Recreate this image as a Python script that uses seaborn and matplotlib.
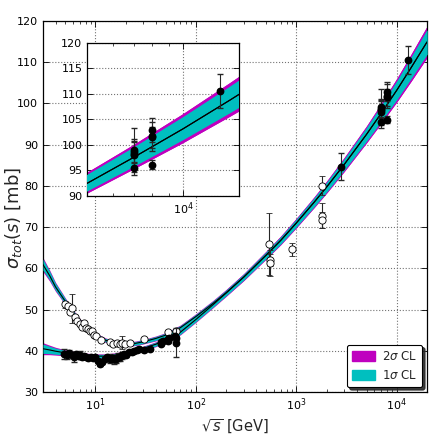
import matplotlib
matplotlib.use('agg')
import matplotlib.pyplot as plt
import matplotlib.ticker as mticker
from matplotlib.patches import Patch
import seaborn as sns
import pandas as pd
import numpy as np

# fitted curves
curve_x = [3, 3.5, 4, 5, 6, 7.5, 10, 12.5, 15, 20, 25, 30, 40, 50, 70, 100, 150, 200,
           300, 500, 700, 1000, 1500, 2000, 3000, 5000, 7000, 10000, 14000, 20000]
pbarp_mid = [60.9, 58.2, 55.5, 52.0, 49.2, 46.3, 43.8, 42.6, 42.0, 41.6, 41.8, 42.2, 43.0, 43.8,
             45.6, 48.3, 51.6, 54.1, 57.9, 63.2, 66.8, 71.0, 76.0, 79.7, 85.2, 92.5, 97.6,
             103.2, 108.8, 114.9]
pp_mid = [40.5, 40.2, 39.9, 39.5, 39.2, 38.9, 38.7, 38.7, 38.9, 39.4, 39.9, 40.6, 41.6, 42.7,
          44.5, 47.6, 51.3, 54.0, 57.9, 63.2, 66.8, 71.0, 76.0, 79.7, 85.2, 92.5, 97.6,
          103.2, 108.8, 114.9]
# 2 sigma half widths
pbarp_w2 = [1.7, 1.35, 1.1, 0.85, 0.7, 0.6, 0.55, 0.55, 0.55, 0.55, 0.55, 0.55, 0.6, 0.6,
            0.65, 0.7, 0.75, 0.8, 0.85, 0.95, 1.05, 1.15, 1.3, 1.45, 1.7, 2.05, 2.4, 2.85, 3.3, 3.8]
pp_w2 = [1.45, 1.15, 0.95, 0.75, 0.65, 0.6, 0.55, 0.55, 0.55, 0.55, 0.55, 0.55, 0.6, 0.6,
         0.65, 0.7, 0.75, 0.8, 0.85, 0.95, 1.05, 1.15, 1.3, 1.45, 1.7, 2.05, 2.4, 2.85, 3.3, 3.8]

# pp data (filled)
pp_x = [4.9, 5.2, 5.5, 5.8, 6.1, 6.4, 6.8, 7.0, 7.3, 7.6, 8.0, 8.5, 9.0, 9.5, 10.0, 10.6,
        11.0, 11.5, 12.3, 13.0, 13.8, 14.5, 15.2, 16.0, 16.8, 17.5, 18.2, 19.4, 20.0, 21.7,
        23.0, 24.4, 26.0, 27.4, 30.6, 35.0, 44.7, 45.0, 46.5, 52.8, 53.0, 54.0, 62.3, 62.7,
        63.0, 2760, 7000, 7000, 7000, 7000, 7000, 8000, 8000, 8000, 8000, 13000]
pp_y = [39.2, 38.9, 39.5, 39.0, 38.6, 39.3, 38.8, 39.0, 38.4, 38.7, 38.5, 38.3, 38.6, 38.2,
        38.5, 37.6, 36.8, 37.2, 38.0, 38.4, 38.1, 38.2, 37.9, 38.0, 38.5, 38.4, 38.9, 39.2,
        39.0, 39.6, 39.8, 40.0, 40.2, 40.5, 40.1, 40.5, 41.7, 42.1, 42.4, 42.4, 42.8, 43.1,
        43.5, 43.2, 42.0, 84.7, 98.3, 98.6, 99.1, 95.4, 98.0, 101.7, 102.9, 101.5, 96.1, 110.6]
pp_err = [1.2, 1.0, 0.8, 0.6, 1.2, 0.5, 0.5, 0.9, 0.4, 0.4, 0.3, 0.3, 0.4, 0.3, 0.3, 0.5,
          0.6, 0.5, 0.5, 0.6, 1.0, 0.8, 1.0, 0.9, 0.9, 0.8, 0.8, 0.4, 0.5, 0.5, 0.3, 0.4,
          0.4, 0.4, 0.4, 0.4, 0.4, 0.4, 0.5, 0.4, 0.5, 0.5, 0.5, 0.5, 3.5, 3.3, 2.8, 2.2,
          4.3, 1.3, 2.5, 2.9, 2.3, 2.1, 0.9, 3.4]

# pbar-p data (open)
pbarp_x = [5.0, 5.3, 5.6, 5.9, 6.2, 6.6, 7.0, 7.3, 7.7, 8.0, 8.4, 8.8, 9.2, 9.7, 10.1, 11.3,
           13.8, 15.0, 16.2, 17.5, 18.3, 19.5, 22.0, 30.4, 52.6, 62.7, 540, 546, 550, 900,
           1800, 1800, 1800]
pbarp_y = [51.3, 50.8, 49.5, 50.3, 48.2, 47.3, 46.5, 45.8, 46.8, 45.5, 45.2, 44.7, 44.9, 43.8,
           43.5, 42.6, 42.2, 41.6, 41.8, 41.6, 42.0, 41.6, 41.8, 42.8, 44.6, 44.9, 66.0, 62.1,
           61.3, 64.6, 80.0, 72.8, 71.7]
pbarp_err = [0.8, 0.6, 0.6, 3.5, 0.5, 0.5, 0.5, 0.4, 0.5, 0.4, 0.4, 0.4, 0.4, 0.4, 0.4, 0.4,
             0.4, 0.4, 0.4, 0.4, 1.5, 0.4, 0.4, 0.4, 0.4, 0.4, 7.5, 1.5, 3.2, 1.6, 2.3, 3.1, 2.0]

sns.set_style("whitegrid")
plt.rcParams['font.family'] = ['DejaVu Sans']
plt.rcParams['mathtext.fontset'] = 'dejavusans'

MAG = (0.75, 0, 0.75)
CYA = (0, 0.75, 0.75)

curves = pd.DataFrame({'x': curve_x, 'pbarp': pbarp_mid, 'pp': pp_mid,
                       'pbarp_w2': pbarp_w2, 'pp_w2': pp_w2})


def draw_all(ax, ms_f=4.6, ms_o=5.2):
    for name in ['pbarp', 'pp']:
        mid = curves[name]
        w2 = curves[name + '_w2']
        w1 = 0.78 * w2
        ax.fill_between(curves['x'], mid - w2, mid + w2, color=MAG, lw=0, zorder=2)
        ax.fill_between(curves['x'], mid - w1, mid + w1, color=CYA, lw=0, zorder=3)
    for name in ['pbarp', 'pp']:
        sns.lineplot(data=curves, x='x', y=name, ax=ax, color='k', lw=0.8, zorder=4,
                     legend=False)
    ax.errorbar(pbarp_x, pbarp_y, yerr=pbarp_err, fmt='o', ms=ms_o, mfc='white', mec='k',
                mew=0.6, ecolor='0.15', elinewidth=0.8, capsize=2.2, zorder=5)
    ax.errorbar(pp_x, pp_y, yerr=pp_err, fmt='o', ms=ms_f, mfc='k', mec='k',
                ecolor='0.15', elinewidth=0.8, capsize=2.2, zorder=6)


def style_axes(ax):
    ax.set_xscale('log')
    ax.grid(True, which='major', color='0.45', ls=':', lw=0.8)
    ax.set_facecolor('white')
    for s in ax.spines.values():
        s.set_color('k')
        s.set_linewidth(0.9)
    ax.tick_params(which='both', direction='in', top=True, right=True, labelsize=8,
                   colors='k', bottom=True, left=True)
    ax.tick_params(which='major', length=4, width=0.6)
    ax.tick_params(which='minor', length=2, width=0.5)
    ax.xaxis.set_minor_formatter(mticker.NullFormatter())
    ax.set_xlabel('')
    ax.set_ylabel('')


fig = plt.figure(figsize=(4.36, 4.36), dpi=100)
ax = fig.add_axes([0.0986, 0.1009, 0.8807, 0.8509])
draw_all(ax)
style_axes(ax)
ax.set_xlim(3, 2e4)
ax.set_ylim(30, 120)
ax.set_yticks(np.arange(30, 121, 10))
ax.set_xlabel(r'$\sqrt{s}$ [GeV]', fontsize=10.5, labelpad=3)
ax.set_ylabel(r'$\sigma_{tot}(s)$ [mb]', fontsize=13)
ax.yaxis.set_label_coords(-0.05, 0.47)

handles = [Patch(facecolor=MAG, edgecolor=MAG, label=r'2$\sigma$ CL'),
           Patch(facecolor=CYA, edgecolor=CYA, label=r'1$\sigma$ CL')]
leg = ax.legend(handles=handles, loc='lower right', fontsize=8.5, frameon=True,
                fancybox=True, shadow={'color': '0.15', 'alpha': 0.9},
                handlelength=1.9, handleheight=1.0,
                borderaxespad=0.4, borderpad=0.45, labelspacing=0.5, handletextpad=0.6)
leg.get_frame().set_edgecolor('k')
leg.get_frame().set_linewidth(0.8)
leg.get_frame().set_alpha(1)

# inset
axi = fig.add_axes([0.2002, 0.5505, 0.3491, 0.3509])
draw_all(axi, ms_f=4.6, ms_o=5.2)
style_axes(axi)
axi.set_xlim(5000, 15000)
axi.set_ylim(90, 120)
axi.set_yticks(np.arange(90, 121, 5))
axi.set_xticks([1e4])
axi.set_xticklabels([r'$10^{4}$'])

fig.savefig('out.png', dpi=100)
